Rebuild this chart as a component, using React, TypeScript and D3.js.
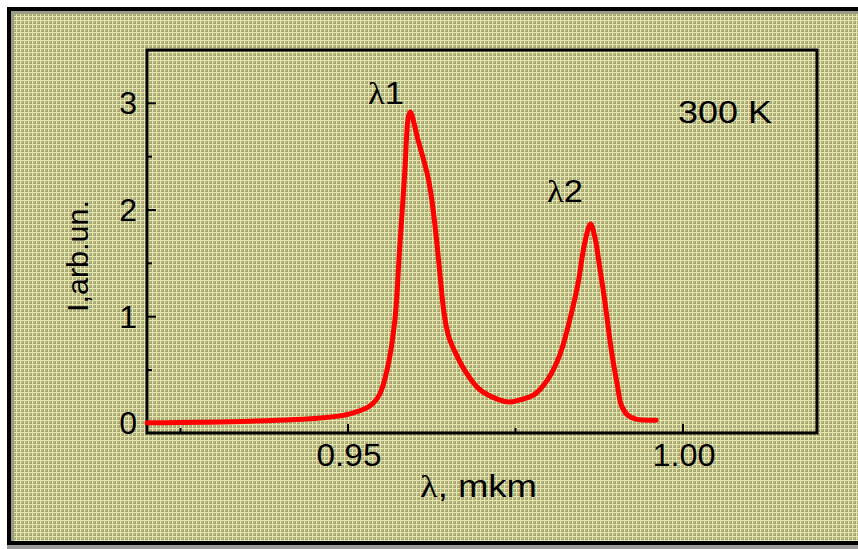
import React from "react";
import * as d3 from "d3";

const xs = [0.92, 0.9354, 0.9458, 0.9503, 0.9532, 0.9547, 0.9559, 0.957, 0.9577, 0.9585, 0.959, 0.9593, 0.9604, 0.9619, 0.9625, 0.9632, 0.9638, 0.9643, 0.9650, 0.9659, 0.9674, 0.9696, 0.9726, 0.974, 0.9756, 0.9778, 0.9798, 0.9816, 0.9831, 0.9843, 0.9853, 0.9862, 0.9869, 0.9875, 0.9883, 0.9893, 0.9902, 0.9908, 0.9917, 0.993, 0.996];
const ys = [0.005, 0.02, 0.05, 0.09, 0.16, 0.27, 0.52, 0.97, 1.63, 2.38, 2.87, 2.92, 2.67, 2.32, 2.1, 1.73, 1.35, 1.05, 0.82, 0.68, 0.5, 0.32, 0.22, 0.2, 0.22, 0.27, 0.41, 0.64, 0.97, 1.3, 1.68, 1.87, 1.73, 1.49, 1.16, 0.69, 0.36, 0.17, 0.08, 0.04, 0.03];
const xMajor = [0.95, 1.0];
const xMinor = [0.925, 0.975];
const xLabels = ["0.95", "1.00"];
const xLabelWidths = [65, 63];
const yMajor = [0, 1, 2, 3];
const yMinor = [0.5, 1.5, 2.5];
const yLabels = ["0", "1", "2", "3"];

const FONT = "'Liberation Sans', Arial, sans-serif";
const SERIF = "'Liberation Serif', 'DejaVu Serif', serif";

export default function App() {
  const x = d3.scaleLinear().domain([0.92, 1.02]).range([147, 817]);
  const y = d3.scaleLinear().domain([-0.09, 3.5]).range([433, 50]);
  const pts: [number, number][] = xs.map((v, i) => [v, ys[i]]);
  const line = d3
    .line<[number, number]>()
    .x((d) => x(d[0]))
    .y((d) => y(d[1]))
    .curve(d3.curveCatmullRom.alpha(0.5));
  const [x0, x1] = x.range();
  const [yb, yt] = y.range();
  return (
    <svg width={858} height={549} style={{ position: "absolute", left: 0, top: 0, background: "#fff" }}>
      <defs>
        <pattern id="bg" width={4} height={4} patternUnits="userSpaceOnUse">
          <rect width={4} height={4} fill="#a4a472" />
          <rect x={1} y={1} width={2} height={2} fill="#b8b882" />
          <rect width={4} height={1} fill="#e6e6ae" />
          <rect width={1} height={4} fill="#e6e6ae" />
        </pattern>
      </defs>
      <rect x={7} y={7} width={851} height={538} fill="url(#bg)" />
      <rect x={7} y={545} width={851} height={4} fill="#9a9a9a" />
      <line x1={11} x2={858} y1={12.5} y2={12.5} stroke="#9a9a8a" strokeWidth={3} />
      <line x1={12.5} x2={12.5} y1={11} y2={541} stroke="#9a9a8a" strokeWidth={3} />
      <line x1={7} x2={858} y1={9} y2={9} stroke="#000" strokeWidth={4} />
      <line x1={9} x2={9} y1={7} y2={545} stroke="#000" strokeWidth={4} />
      <line x1={7} x2={858} y1={543} y2={543} stroke="#000" strokeWidth={4} />

      {/* frame */}
      <rect x={x0} y={yt} width={x1 - x0} height={yb - yt} fill="none" stroke="#000" strokeWidth={3} />

      {/* x ticks */}
      {xMajor.map((v, i) => (
        <g key={"xm" + i}>
          <line x1={x(v)} x2={x(v)} y1={yb} y2={yb - 9} stroke="#000" strokeWidth={2} />
          <text
            x={x(v) - xLabelWidths[i] / 2 + 1}
            y={466}
            textLength={xLabelWidths[i]}
            lengthAdjust="spacingAndGlyphs"
            fontFamily={FONT}
            fontSize={32}
            fill="#000"
          >
            {xLabels[i]}
          </text>
        </g>
      ))}
      {xMinor.map((v, i) => (
        <line key={"xn" + i} x1={x(v)} x2={x(v)} y1={yb} y2={yb - 5} stroke="#000" strokeWidth={2} />
      ))}

      {/* y ticks */}
      {yMajor.map((v, i) => (
        <g key={"ym" + i}>
          <line x1={x0} x2={x0 + 9} y1={y(v)} y2={y(v)} stroke="#000" strokeWidth={2} />
          <text x={137} y={y(v) + 11} textAnchor="end" fontFamily={FONT} fontSize={32} fill="#000">
            {yLabels[i]}
          </text>
        </g>
      ))}
      {yMinor.map((v, i) => (
        <line key={"yn" + i} x1={x0} x2={x0 + 5} y1={y(v)} y2={y(v)} stroke="#000" strokeWidth={2} />
      ))}

      {/* axis titles */}
      <text
        transform="translate(88,312) rotate(-90)"
        textLength={112}
        lengthAdjust="spacingAndGlyphs"
        fontFamily={FONT}
        fontSize={30}
        fill="#000"
      >
        I,arb.un.
      </text>
      <text x={420} y={497} textLength={117} lengthAdjust="spacingAndGlyphs" fontFamily={FONT} fontSize={31} fill="#000">
        <tspan fontFamily={SERIF}>λ</tspan>, mkm
      </text>

      {/* curve */}
      <path d={line(pts) || ""} fill="none" stroke="#ff0000" strokeWidth={5} strokeLinejoin="round" strokeLinecap="round" />

      {/* annotations */}
      <text x={368} y={104} textLength={36} lengthAdjust="spacingAndGlyphs" fontFamily={FONT} fontSize={31} fill="#000">
        <tspan fontFamily={SERIF}>λ</tspan>1
      </text>
      <text x={547} y={202} textLength={36} lengthAdjust="spacingAndGlyphs" fontFamily={FONT} fontSize={31} fill="#000">
        <tspan fontFamily={SERIF}>λ</tspan>2
      </text>
      <text x={678} y={123} textLength={94} lengthAdjust="spacingAndGlyphs" fontFamily={FONT} fontSize={32} fill="#000">
        300 K
      </text>
    </svg>
  );
}
